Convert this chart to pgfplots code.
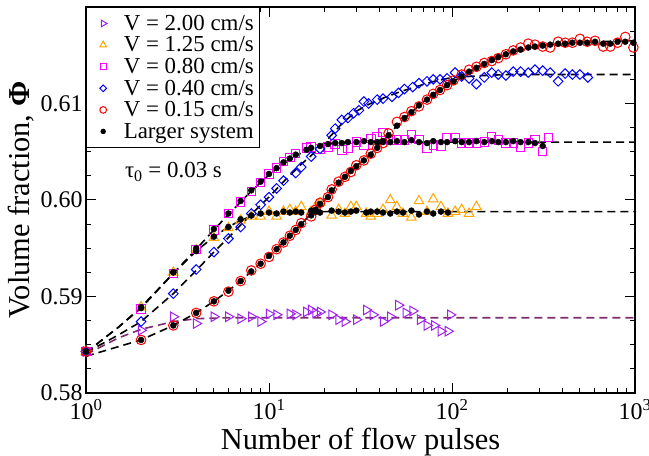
\documentclass[border=0pt]{standalone}
\usepackage{fontspec}
\setmainfont{Liberation Serif}
\usepackage{pgfplots}
\pgfplotsset{compat=1.18}
\definecolor{gviolet}{RGB}{160,32,240}
\definecolor{gorange}{RGB}{255,165,0}
\definecolor{gmagenta}{RGB}{255,0,255}
\definecolor{gblue}{RGB}{0,0,255}
\definecolor{gred}{RGB}{255,0,0}
\definecolor{gmaroon}{RGB}{123,45,110}
\pgfplotsset{
  fitline/.style={no marks, line width=1.6bp, dash pattern=on 8bp off 5bp, forget plot},
}
\begin{document}
\begin{tikzpicture}
\begin{axis}[
  scale only axis,
  width=549bp, height=386bp,
  xmode=log, xmin=1, xmax=1000,
  ymin=0.58, ymax=0.62,
  xtick={1,10,100,1000},
  xticklabels={10\textsuperscript{0},10\textsuperscript{1},10\textsuperscript{2},10\textsuperscript{3}},
  minor xtick={2,3,4,5,6,7,8,9,20,30,40,50,60,70,80,90,200,300,400,500,600,700,800,900},
  ytick={0.58,0.59,0.60,0.61,0.62},
  yticklabels={0.58,0.59,0.60,0.61,},
  minor ytick={0.5825,0.585,0.5875,0.5925,0.595,0.5975,0.6025,0.605,0.6075,0.6125,0.615,0.6175},
  tick align=inside,
  major tick length=10bp, minor tick length=5bp,
  every tick/.style={black, line width=1bp},
  axis line style={line width=1.5bp},
  tick label style={font=\fontsize{24}{24}\selectfont},
  xticklabel style={yshift=-3bp},
  label style={font=\fontsize{30.5}{30.5}\selectfont},
  xlabel={Number of flow pulses},
  ylabel={Volume fraction, \textbf{Φ}},
  xlabel style={yshift=-1bp},
  legend style={at={(0,1)}, anchor=north west, draw=black, line width=1.2bp,
    fill=white, font=\fontsize{23}{23}\selectfont, inner xsep=4bp, inner ysep=6.5bp,
    row sep=2.9bp, nodes={inner xsep=2bp, inner ysep=1bp}},
  legend cell align=left,
  legend image code/.code={\path (0bp,0bp) (30bp,0bp);
    \draw[mark repeat=2,mark phase=2,#1] plot coordinates {(0bp,0bp) (12bp,0bp) (24bp,0bp)};},
  legend image post style={every mark/.append style={scale=0.7}},
]
% fit lines
\addplot[fitline, color=gmaroon] coordinates {(1,0.5840) (1.5,0.5857) (2,0.5866) (3,0.5874) (4,0.5877) (6,0.5878) (1000,0.5878)};
\addplot[fitline, color=black] coordinates {(1,0.5842) (1.5,0.5868) (2,0.5889) (3,0.5924) (4,0.5947) (5,0.5962) (6,0.5972) (7,0.5979) (8,0.5983) (10,0.5987) (13,0.5988) (1000,0.5988)};
\addplot[fitline, color=black] coordinates {(1,0.5842) (1.5,0.5868) (2,0.5888) (3,0.5924) (4,0.5949) (5,0.5969) (6,0.5985) (7,0.5998) (8,0.6009) (9,0.6018) (10,0.6026) (12,0.6038) (14,0.6046) (17,0.6053) (20,0.6057) (25,0.6060) (1000,0.6060)};
\addplot[fitline, color=black] coordinates {(1,0.5842) (1.5,0.5860) (2,0.5874) (3,0.5903) (4,0.5927) (5,0.5946) (6,0.5961) (7,0.5974) (8,0.5985) (10,0.6003) (12,0.6019) (15,0.6037) (17,0.6046) (20,0.6059) (25,0.6079) (30,0.6092) (35,0.6099) (40,0.6104) (50,0.6111) (60,0.6116) (80,0.6123) (100,0.6127) (150,0.6129) (200,0.6130) (1000,0.6130)};
\addplot[fitline, color=black] coordinates {(1,0.5838) (1.5,0.5848) (2,0.5855) (3,0.5870) (4,0.5883) (5,0.5895) (6,0.5906) (7,0.5916) (8,0.5926) (10,0.5942) (12,0.5956) (15,0.5975) (20,0.6000) (25,0.6021) (30,0.6035) (35,0.6046) (40,0.6057) (45,0.6067) (50,0.6077) (60,0.6091) (70,0.6102) (80,0.6110) (100,0.6122) (130,0.6135) (160,0.6144) (200,0.6151) (250,0.6157) (300,0.6160) (400,0.6162) (600,0.6164) (1000,0.6165)};

% V = 2.00
\addplot[only marks, color=gviolet, mark=triangle, mark size=5.5bp, line width=1bp, mark options={rotate=-90}] coordinates {
(1,0.5843) (2,0.5865) (3,0.5879) (4,0.5872) (5,0.5879) (6,0.5879) (7,0.5877) (8,0.5879) (9,0.5874) (10,0.5882) (11,0.5881) (13,0.5882) (14,0.5881) (16,0.5884) (17,0.5886) (18,0.5883) (19,0.5884) (22,0.5881) (24,0.5876) (26,0.5874) (30,0.5876) (34,0.5886) (37,0.5881) (42,0.5874) (46,0.5879) (51,0.5891) (56,0.5883) (61,0.5885) (67,0.5876) (73,0.5870) (80,0.5870) (87,0.5864) (95,0.5864) (98,0.5881)};
\addlegendentry{V = 2.00 cm/s}
% V = 1.25
\addplot[only marks, color=gorange, mark=triangle, mark size=5.5bp, line width=1bp] coordinates {
(1,0.5843) (2,0.5889) (3,0.5925) (4,0.5948) (5,0.5961) (6,0.5971) (7,0.5979) (8,0.5983) (9,0.5983) (10,0.5988) (11,0.5983) (12,0.5988) (13,0.5990) (14,0.5988) (15,0.5993) (17,0.5988) (18,0.5993) (19,0.5997) (22,0.5984) (24,0.5990) (26,0.5986) (28,0.5993) (30,0.5993) (34,0.5986) (36,0.5983) (39,0.5986) (42,0.5990) (46,0.6000) (50,0.5993) (54,0.5986) (60,0.5982) (66,0.5999) (73,0.5988) (79,0.6001) (87,0.5993) (95,0.5986) (104,0.5988) (113,0.5990) (124,0.5986) (136,0.5993)};
\addlegendentry{V = 1.25 cm/s}
% V = 0.80
\addplot[only marks, color=gmagenta, mark=square, mark size=4.2bp, line width=1bp] coordinates {
(1,0.5843) (2,0.5887) (3,0.5924) (4,0.5949) (5,0.5969) (6,0.5986) (7,0.5998) (8,0.6009) (9,0.6018) (10,0.6027) (11,0.6033) (12,0.6040) (13,0.6044) (14,0.6048) (16,0.6054) (17,0.6055) (19,0.6053) (21,0.6055) (23,0.6058) (25,0.6052) (27,0.6054) (30,0.6060) (33,0.6057) (36,0.6064) (39,0.6066) (42,0.6070) (46,0.6062) (50,0.6062) (55,0.6062) (60,0.6068) (66,0.6063) (73,0.6054) (79,0.6057) (87,0.6056) (94,0.6065) (104,0.6065) (113,0.6059) (124,0.6059) (136,0.6059) (150,0.6060) (165,0.6066) (179,0.6062) (197,0.6059) (216,0.6059) (237,0.6055) (261,0.6059) (284,0.6063) (313,0.6050) (336,0.6065)};
\addlegendentry{V = 0.80 cm/s}
% V = 0.40
\addplot[only marks, color=gblue, mark=square, mark size=3.4bp, line width=1bp, mark options={rotate=45}] coordinates {
(1,0.5843) (2,0.5874) (3,0.5903) (4,0.5928) (5,0.5946) (6,0.5960) (7,0.5972) (8,0.5986) (9,0.5995) (10,0.6003) (11,0.6012) (12,0.6020) (14,0.6028) (15,0.6034) (17,0.6045) (19,0.6053) (22,0.6067) (23,0.6074) (25,0.6083) (27,0.6085) (29,0.6090) (31,0.6093) (33,0.6102) (35,0.6100) (39,0.6104) (42,0.6105) (47,0.6107) (51,0.6111) (55,0.6115) (61,0.6117) (66,0.6121) (73,0.6123) (79,0.6125) (86,0.6125) (94,0.6126) (104,0.6132) (113,0.6128) (124,0.6126) (136,0.6120) (150,0.6127) (165,0.6132) (179,0.6130) (197,0.6129) (216,0.6133) (237,0.6133) (261,0.6132) (284,0.6135) (313,0.6134) (344,0.6132) (380,0.6123) (415,0.6131) (455,0.6130) (500,0.6130) (553,0.6127)};
\addlegendentry{V = 0.40 cm/s}
% V = 0.15
\addplot[only marks, color=gred, mark=o, mark size=4.8bp, line width=1bp] coordinates {
(1,0.5843) (2,0.5855) (3,0.5870) (4,0.5883) (5,0.5895) (6,0.5905) (7,0.5916) (8,0.5927) (9,0.5934) (10,0.5941) (11,0.5949) (12,0.5956) (13,0.5963) (14,0.5969) (15,0.5976) (17,0.5983) (18,0.5990) (19,0.5997) (21,0.6003) (22,0.6011) (24,0.6019) (26,0.6024) (28,0.6029) (30,0.6036) (33,0.6041) (36,0.6048) (39,0.6054) (42,0.6059) (45,0.6069) (50,0.6081) (55,0.6086) (60,0.6092) (66,0.6097) (73,0.6104) (79,0.6110) (86,0.6114) (94,0.6119) (102,0.6124) (113,0.6130) (124,0.6135) (136,0.6138) (150,0.6142) (165,0.6144) (179,0.6147) (197,0.6151) (216,0.6155) (237,0.6158) (261,0.6162) (284,0.6161) (313,0.6159) (344,0.6158) (380,0.6164) (415,0.6163) (455,0.6163) (500,0.6167) (548,0.6164) (605,0.6165) (670,0.6159) (733,0.6159) (803,0.6163) (885,0.6169) (980,0.6158)};
\addlegendentry{V = 0.15 cm/s}
% larger system
\addplot[only marks, color=black, mark=*, mark size=3bp] coordinates {
(1,0.5843) (2,0.5888) (3,0.5925) (4,0.5950) (5,0.5970) (6,0.5986) (7,0.5999) (8,0.6010) (9,0.6019) (10,0.6027) (11,0.6033) (12,0.6039) (13,0.6043) (14,0.6047) (16,0.6052) (17,0.6054) (19,0.6056) (21,0.6058) (23,0.6059) (25,0.6059) (27,0.6060) (30,0.6060) (33,0.6061) (36,0.6060) (39,0.6060) (42,0.6061) (46,0.6060) (50,0.6061) (55,0.6060) (60,0.6062) (66,0.6060) (73,0.6059) (79,0.6061) (87,0.6060) (94,0.6060) (104,0.6061) (113,0.6060) (124,0.6060) (136,0.6061) (150,0.6060) (165,0.6061) (179,0.6060) (197,0.6060) (216,0.6061) (237,0.6060) (261,0.6060) (284,0.6059) (313,0.6056)};
\addlegendentry{Larger system}
\addplot[only marks, color=black, mark=*, mark size=3bp, forget plot] coordinates {
(2,0.5889) (3,0.5925) (4,0.5947) (5,0.5962) (6,0.5972) (7,0.5980) (8,0.5984) (9,0.5986) (10,0.5987) (11,0.5986) (12,0.5988) (13,0.5987) (14,0.5988) (15,0.5987) (17,0.5989) (18,0.5988) (19,0.5987) (22,0.5989) (24,0.5988) (26,0.5987) (28,0.5988) (30,0.5989) (34,0.5987) (36,0.5988) (39,0.5988) (42,0.5987) (46,0.5986) (50,0.5988) (54,0.5987) (60,0.5989) (66,0.5985) (73,0.5988) (79,0.5986) (87,0.5988) (95,0.5987)};
\addplot[only marks, color=black, mark=*, mark size=3bp, forget plot] coordinates {
(2,0.5855) (3,0.5870) (4,0.5883) (5,0.5895) (6,0.5906) (7,0.5916) (8,0.5926) (9,0.5934) (10,0.5942) (11,0.5949) (12,0.5956) (13,0.5963) (14,0.5969) (15,0.5975) (17,0.5984) (18,0.5990) (19,0.5996) (21,0.6003) (22,0.6010) (24,0.6018) (26,0.6024) (28,0.6030) (30,0.6035) (33,0.6041) (36,0.6047) (39,0.6054) (42,0.6060) (45,0.6067) (50,0.6077) (55,0.6085) (60,0.6091) (66,0.6098) (73,0.6104) (79,0.6109) (86,0.6114) (94,0.6119) (102,0.6123) (113,0.6128) (124,0.6133) (136,0.6137) (150,0.6141) (165,0.6145) (179,0.6148) (197,0.6151) (216,0.6154) (237,0.6156) (261,0.6158) (284,0.6159) (313,0.6160) (344,0.6161) (380,0.6162) (415,0.6162) (455,0.6163) (500,0.6163) (548,0.6163) (605,0.6164) (670,0.6162) (733,0.6162) (803,0.6164) (885,0.6164) (980,0.6163)};
\node[anchor=west, inner sep=0pt, font=\fontsize{23}{23}\selectfont] at (axis cs:1.63,0.6029) {τ\textsubscript{0} = 0.03 s};
\end{axis}
\pgfresetboundingbox
\path ([shift={(-86bp,-63bp)}]current axis.south west) rectangle ([shift={(14bp,7bp)}]current axis.north east);
\end{tikzpicture}
\end{document}
